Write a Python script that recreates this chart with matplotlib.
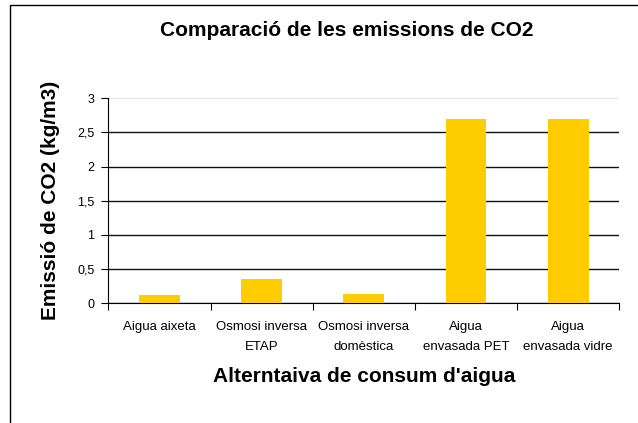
import matplotlib
matplotlib.use("Agg")
import matplotlib.pyplot as plt
from matplotlib.patches import Rectangle

plt.rcParams["font.family"] = ["Liberation Sans", "DejaVu Sans"]

categories = ["Aigua aixeta", "Osmosi inversa\nETAP", "Osmosi inversa\ndomèstica",
              "Aigua\nenvasada PET", "Aigua\nenvasada vidre"]
emissions = [0.12, 0.355, 0.137, 2.70, 2.70]
y_ticks = [0, 0.5, 1, 1.5, 2, 2.5, 3]
y_tick_labels = ["0", "0,5", "1", "1,5", "2", "2,5", "3"]

W, H = 638, 423
fig = plt.figure(figsize=(W / 100, H / 100), dpi=100)
fig.patch.set_facecolor("white")

# outer chart frame (only left/top edges fall inside the picture)
fig.add_artist(Rectangle((10 / W, -0.1), 1.2, 1.1 - 5 / H, transform=fig.transFigure,
                         fill=False, edgecolor="#000000", linewidth=1.0))

ax = fig.add_axes([108.3 / W, 1 - 303.3 / H, 511 / W, 205 / H])
x = list(range(len(categories)))
ax.bar(x, emissions, width=0.4, color="#ffcc00", zorder=3)

ax.set_xlim(-0.5, len(categories) - 0.5)
ax.set_ylim(0, 3)
ax.set_yticks(y_ticks)
ax.set_yticklabels(y_tick_labels, fontsize=9)
ax.yaxis.grid(True, color="#111111", linewidth=1, zorder=0)
ax.yaxis.get_gridlines()[-1].set_color("#e6e6e6")
ax.set_xticks([i - 0.5 for i in range(len(categories) + 1)])
ax.set_xticklabels([])
ax.set_xticks(x, minor=True)
ax.set_xticklabels(categories, minor=True, fontsize=9.5, linespacing=1.85)
ax.tick_params(axis="x", which="minor", length=0, pad=13)
ax.tick_params(axis="x", which="major", length=5, direction="out")
ax.tick_params(axis="y", length=5, direction="out", pad=5)
ax.spines["top"].set_visible(False)
ax.spines["right"].set_visible(False)

ax.set_xlabel("Alterntaiva de consum d'aigua", fontsize=15, fontweight="bold", labelpad=10)
ax.set_ylabel("Emissió de CO2 (kg/m3)", fontsize=15, fontweight="bold", labelpad=12)
fig.text(347 / W, 1 - 30 / H, "Comparació de les emissions de CO2", ha="center", va="center",
         fontsize=15, fontweight="bold")

fig.savefig("out.png", dpi=100)
